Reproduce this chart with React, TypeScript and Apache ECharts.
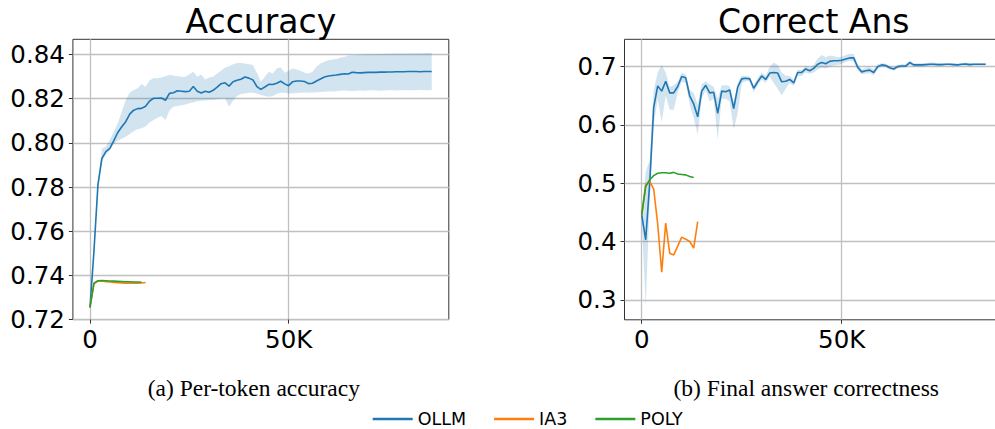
import React, { useEffect, useRef } from "react";
import * as echarts from "echarts";

// Evaluation steps (every 1000 training steps)
const STEPS = Array.from({ length: 87 }, (_, i) => i * 1000);

// ---- (a) Per-token accuracy ----
const ACC_OLLM = [0.7255, 0.751, 0.781, 0.793, 0.796, 0.7975, 0.801, 0.8047, 0.8073, 0.8096,
  0.813, 0.8148, 0.8155, 0.8156, 0.8166, 0.8189, 0.8202, 0.8202, 0.8203, 0.8193,
  0.8224, 0.8227, 0.8236, 0.8234, 0.8232, 0.8234, 0.8255, 0.8234, 0.8226, 0.8234,
  0.8229, 0.8238, 0.8252, 0.8268, 0.8272, 0.8257, 0.8277, 0.8283, 0.8288, 0.8298,
  0.8293, 0.8285, 0.8255, 0.8242, 0.8253, 0.8265, 0.8264, 0.827, 0.8279, 0.8267,
  0.8259, 0.8277, 0.828, 0.828, 0.8278, 0.8268, 0.827, 0.828, 0.8289, 0.8298,
  0.8303, 0.8305, 0.8307, 0.831, 0.8313, 0.8312, 0.832, 0.8318, 0.8317, 0.8318,
  0.8319, 0.8319, 0.8319, 0.832, 0.832, 0.8321, 0.8321, 0.8322, 0.8322, 0.8322,
  0.8323, 0.8323, 0.8323, 0.8322, 0.8323, 0.8323, 0.8323];
const ACC_OLLM_LO = [0.7255, 0.75, 0.779, 0.7915, 0.7946, 0.7968, 0.7995, 0.801, 0.8019, 0.8028,
  0.804, 0.8053, 0.8062, 0.8066, 0.8074, 0.8092, 0.8104, 0.8114, 0.8122, 0.8104,
  0.8146, 0.8164, 0.8167, 0.817, 0.8174, 0.8179, 0.8183, 0.8188, 0.8191, 0.8192,
  0.8194, 0.8194, 0.8197, 0.82, 0.8201, 0.8164, 0.8191, 0.8212, 0.8221, 0.8224,
  0.8227, 0.8227, 0.8224, 0.8217, 0.8212, 0.8209, 0.8212, 0.8221, 0.8227, 0.8227,
  0.8224, 0.8224, 0.8226, 0.8227, 0.8228, 0.8227, 0.8228, 0.8229, 0.823, 0.8231,
  0.8232, 0.8233, 0.8234, 0.8236, 0.8237, 0.8236, 0.8235, 0.8236, 0.8237, 0.8236,
  0.8237, 0.8238, 0.8237, 0.8236, 0.8237, 0.8238, 0.8238, 0.8237, 0.8238, 0.8238,
  0.8239, 0.8238, 0.8238, 0.8239, 0.8238, 0.8238, 0.8238];
const ACC_OLLM_HI = [0.7255, 0.752, 0.783, 0.7975, 0.7983, 0.8013, 0.8051, 0.8089, 0.8141, 0.8194,
  0.8227, 0.8239, 0.8247, 0.8266, 0.8254, 0.8284, 0.8292, 0.8292, 0.8296, 0.8302,
  0.8307, 0.8305, 0.8302, 0.8299, 0.8299, 0.8311, 0.8322, 0.8299, 0.831, 0.8287,
  0.8296, 0.8299, 0.8314, 0.8326, 0.8341, 0.8347, 0.8356, 0.8362, 0.8362, 0.8359,
  0.8356, 0.8352, 0.8317, 0.8277, 0.8299, 0.8322, 0.8314, 0.8337, 0.8341, 0.8317,
  0.8326, 0.8337, 0.8332, 0.8326, 0.8317, 0.8314, 0.8322, 0.8344, 0.8359, 0.8367,
  0.8374, 0.8377, 0.838, 0.8385, 0.8389, 0.8395, 0.8397, 0.8398, 0.8399, 0.84,
  0.8401, 0.8401, 0.8402, 0.8402, 0.8403, 0.8403, 0.8404, 0.8404, 0.8404, 0.8405,
  0.8405, 0.8405, 0.8406, 0.8406, 0.8406, 0.8407, 0.8407];
const ACC_IA3 = [0.7255, 0.7362, 0.7374, 0.7375, 0.7372, 0.737, 0.7368, 0.7367, 0.7366, 0.7365,
  0.7365, 0.7365, 0.7365, 0.7366, 0.7368];
const ACC_POLY = [0.7255, 0.7365, 0.7376, 0.7377, 0.7376, 0.7375, 0.7374, 0.7373, 0.7372, 0.7371,
  0.7371, 0.737, 0.737, 0.7369];

// ---- (b) Final answer correctness ----
const ANS_OLLM = [0.446, 0.403, 0.5, 0.63, 0.667, 0.658, 0.675, 0.655, 0.655, 0.666,
  0.683, 0.681, 0.65, 0.636, 0.614, 0.658, 0.668, 0.655, 0.656, 0.62,
  0.658, 0.657, 0.66, 0.628, 0.665, 0.679, 0.68, 0.679, 0.663, 0.674,
  0.684, 0.678, 0.689, 0.69, 0.689, 0.674, 0.675, 0.678, 0.672, 0.69,
  0.69, 0.696, 0.693, 0.697, 0.704, 0.707, 0.705, 0.709, 0.71, 0.71,
  0.711, 0.713, 0.715, 0.715, 0.699, 0.691, 0.693, 0.694, 0.69, 0.7,
  0.703, 0.702, 0.698, 0.696, 0.7, 0.701, 0.701, 0.707, 0.703, 0.703,
  0.703, 0.7035, 0.704, 0.704, 0.7035, 0.7035, 0.704, 0.704, 0.7035, 0.703,
  0.704, 0.7045, 0.7035, 0.704, 0.704, 0.704, 0.704];
const ANS_OLLM_LO = [0.44, 0.288, 0.47, 0.6, 0.645, 0.605, 0.65, 0.626, 0.626, 0.655,
  0.674, 0.672, 0.635, 0.612, 0.583, 0.645, 0.66, 0.64, 0.645, 0.575,
  0.645, 0.645, 0.64, 0.592, 0.62, 0.672, 0.675, 0.675, 0.655, 0.668,
  0.678, 0.672, 0.683, 0.672, 0.662, 0.651, 0.662, 0.672, 0.667, 0.684,
  0.684, 0.69, 0.688, 0.69, 0.695, 0.698, 0.697, 0.7, 0.702, 0.703,
  0.705, 0.708, 0.71, 0.709, 0.694, 0.687, 0.688, 0.689, 0.685, 0.696,
  0.7, 0.699, 0.695, 0.693, 0.697, 0.698, 0.698, 0.703, 0.7, 0.7,
  0.7, 0.701, 0.701, 0.701, 0.701, 0.701, 0.702, 0.702, 0.701, 0.701,
  0.702, 0.702, 0.701, 0.702, 0.702, 0.702, 0.702];
const ANS_OLLM_HI = [0.452, 0.52, 0.54, 0.66, 0.69, 0.703, 0.69, 0.665, 0.668, 0.674,
  0.69, 0.687, 0.66, 0.655, 0.635, 0.67, 0.675, 0.67, 0.665, 0.645,
  0.668, 0.668, 0.667, 0.64, 0.672, 0.685, 0.684, 0.683, 0.668, 0.68,
  0.69, 0.684, 0.7, 0.707, 0.703, 0.69, 0.685, 0.684, 0.677, 0.695,
  0.694, 0.701, 0.698, 0.703, 0.714, 0.72, 0.716, 0.719, 0.718, 0.716,
  0.717, 0.72, 0.722, 0.722, 0.704, 0.695, 0.698, 0.699, 0.695, 0.704,
  0.706, 0.705, 0.701, 0.699, 0.703, 0.704, 0.704, 0.71, 0.706, 0.706,
  0.706, 0.706, 0.707, 0.707, 0.706, 0.706, 0.706, 0.706, 0.706, 0.705,
  0.706, 0.707, 0.706, 0.706, 0.706, 0.706, 0.706];
const ANS_IA3 = [0.445, 0.497, 0.503, 0.49, 0.43, 0.3475, 0.4315, 0.38, 0.377, 0.392,
  0.4075, 0.404, 0.4, 0.3887, 0.4343];
const ANS_POLY = [0.446, 0.494, 0.506, 0.513, 0.517, 0.518, 0.518, 0.517, 0.5186, 0.5157,
  0.515, 0.5143, 0.5114, 0.5097];

// ---- ticks & labels ----
const X_TICKS = [0, 50000];
const X_TICK_LABELS = ["0", "50K"];
const Y_TICKS_A = [0.72, 0.74, 0.76, 0.78, 0.8, 0.82, 0.84];
const Y_TICKS_B = [0.3, 0.4, 0.5, 0.6, 0.7];
const SERIES_NAMES = ["OLLM", "IA3", "POLY"];
const COLORS = ["#1f77b4", "#ff7f0e", "#2ca02c"];
const TITLES = ["Accuracy", "Correct Ans"];
const CAPTIONS = ["(a) Per-token accuracy", "(b) Final answer correctness"];

const SANS = "DejaVu Sans";
const SERIF = "Liberation Serif";

const pairs = (ys: number[]) => ys.map((y, i) => [STEPS[i], y]);
const bandData = (lo: number[], hi: number[]) => lo.map((l, i) => [STEPS[i], l, hi[i]]);

function bandSeries(idx: number, lo: number[], hi: number[]) {
  return {
    type: "custom",
    xAxisIndex: idx,
    yAxisIndex: idx,
    z: 1,
    silent: true,
    clip: true,
    encode: { x: 0, y: [1, 2] },
    data: bandData(lo, hi),
    renderItem: (params: any, api: any) => {
      if (params.dataIndexInside !== 0) return null;
      const n = params.dataInsideLength;
      const top: number[][] = [];
      const bot: number[][] = [];
      for (let i = 0; i < n; i++) {
        top.push(api.coord([api.value(0, i), api.value(2, i)]));
        bot.push(api.coord([api.value(0, i), api.value(1, i)]));
      }
      return {
        type: "polygon",
        shape: { points: top.concat(bot.reverse()) },
        style: { fill: "rgba(31,119,180,0.2)", stroke: "none" },
      };
    },
  };
}

function lineSeries(idx: number, nameIdx: number, ys: number[]) {
  return {
    type: "line",
    name: SERIES_NAMES[nameIdx],
    xAxisIndex: idx,
    yAxisIndex: idx,
    data: pairs(ys),
    color: COLORS[nameIdx],
    showSymbol: false,
    symbol: "none",
    clip: true,
    z: 2 + nameIdx,
    lineStyle: { width: 1.6, color: COLORS[nameIdx] },
  };
}

const gridLine = { show: true, lineStyle: { color: "#c0c0c0", width: 1.3 } };

function xAxis(gridIndex: number) {
  return {
    type: "value",
    gridIndex,
    min: -4300,
    max: 90300,
    axisLine: { show: false, onZero: false },
    axisTick: { show: true, length: 4, customValues: X_TICKS, lineStyle: { color: "#333", width: 1 } },
    axisLabel: {
      customValues: X_TICKS,
      formatter: (v: number) => X_TICK_LABELS[X_TICKS.indexOf(v)] ?? "",
      fontSize: 24.5,
      fontFamily: SANS,
      color: "#000",
      margin: 7,
    },
    splitLine: gridLine,
  };
}

function yAxis(gridIndex: number, min: number, max: number, ticks: number[], digits: number) {
  return {
    type: "value",
    gridIndex,
    min,
    max,
    axisLine: { show: false, onZero: false },
    axisTick: { show: true, length: 4, customValues: ticks, lineStyle: { color: "#333", width: 1 } },
    axisLabel: {
      customValues: ticks,
      formatter: (v: number) => v.toFixed(digits),
      fontSize: 24.5,
      fontFamily: SANS,
      color: "#000",
      margin: 8,
    },
    splitLine: gridLine,
  };
}

const option: any = {
  animation: false,
  backgroundColor: "#fff",
  grid: [
    { left: 72.9, top: 39.3, width: 375.9, height: 280.3, show: true, borderColor: "#333", borderWidth: 1, backgroundColor: "transparent" },
    { left: 624.5, top: 39.3, width: 378.4, height: 280.5, show: true, borderColor: "#333", borderWidth: 1, backgroundColor: "transparent" },
  ],
  xAxis: [xAxis(0), xAxis(1)],
  yAxis: [
    yAxis(0, 0.72, 0.84688, Y_TICKS_A, 2),
    yAxis(1, 0.2657, 0.7469, Y_TICKS_B, 1),
  ],
  legend: {
    data: SERIES_NAMES,
    left: 372.7,
    top: 410,
    padding: 0,
    itemWidth: 40,
    itemHeight: 2.5,
    itemGap: 28,
    icon: "rect",
    selectedMode: false,
    textStyle: { fontSize: 17.5, fontFamily: SANS, color: "#000" },
  },
  graphic: [
    { type: "text", x: 260.9, y: 21, style: { text: TITLES[0], fontSize: 33, fontFamily: SANS, fill: "#000", align: "center", verticalAlign: "middle" } },
    { type: "text", x: 813.7, y: 21, style: { text: TITLES[1], fontSize: 33, fontFamily: SANS, fill: "#000", align: "center", verticalAlign: "middle" } },
    { type: "text", x: 253.8, y: 388, style: { text: CAPTIONS[0], fontSize: 23.5, fontFamily: SERIF, fill: "#000", align: "center", verticalAlign: "middle" } },
    { type: "text", x: 806.2, y: 388, style: { text: CAPTIONS[1], fontSize: 23.5, fontFamily: SERIF, fill: "#000", align: "center", verticalAlign: "middle" } },
  ],
  series: [
    bandSeries(0, ACC_OLLM_LO, ACC_OLLM_HI),
    lineSeries(0, 0, ACC_OLLM),
    lineSeries(0, 1, ACC_IA3),
    lineSeries(0, 2, ACC_POLY),
    bandSeries(1, ANS_OLLM_LO, ANS_OLLM_HI),
    lineSeries(1, 0, ANS_OLLM),
    lineSeries(1, 1, ANS_IA3),
    lineSeries(1, 2, ANS_POLY),
  ],
};

export default function App() {
  const ref = useRef<HTMLDivElement>(null);
  useEffect(() => {
    const chart = echarts.init(ref.current!, null, { renderer: "svg" });
    chart.setOption(option);
    return () => chart.dispose();
  }, []);
  return (
    <div
      ref={ref}
      style={{ position: "fixed", left: 0, top: 0, width: 1012, height: 429, background: "#fff" }}
    />
  );
}
